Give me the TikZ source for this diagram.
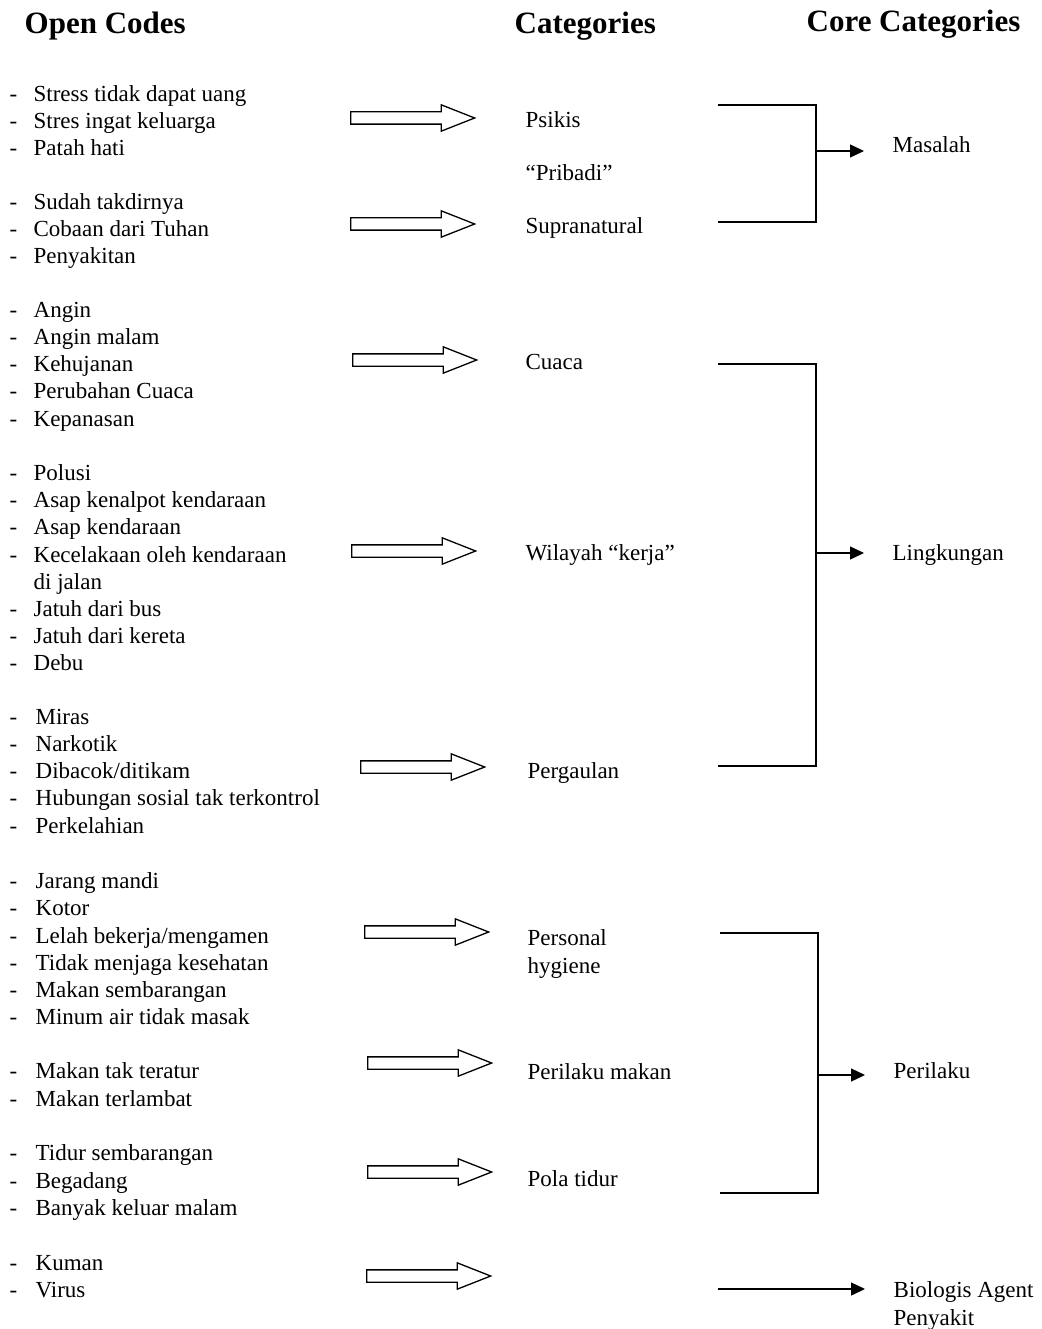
\documentclass[tikz,border=0pt]{standalone}
\usepackage{fontspec}
\setmainfont{Liberation Serif}
\usetikzlibrary{arrows.meta,shapes.arrows,positioning}

\begin{document}
\begin{tikzpicture}[x=1pt, y=-1pt, >={Triangle[length=14pt,width=13pt]}, line width=1.3pt,
  font=\fontsize{23}{27.6}\selectfont,
  txt/.style={anchor=west, inner sep=0pt, text height=17pt, text depth=4pt},
  twoline/.style={anchor=north west, inner sep=0pt, align=left},
  head/.style={txt, font=\fontsize{31}{36}\selectfont\bfseries},
  hollow/.style={draw, single arrow, single arrow head extend=7pt, single arrow tip angle=43,
    minimum height=124pt, inner xsep=0pt, inner ysep=5.5pt, anchor=tail},
  tip/.style={->, shorten >=28pt}]
  \useasboundingbox (0,0) rectangle (1041,1329);

  % column heads
  \node[head] (hopen) at (24,27) {Open Codes};
  \node[head] (hcat) at (514,27) {Categories};
  \node[head] (hcore) at (806,25) {Core Categories};

  % open codes
  \foreach \y/\t [count=\i] in {95/Stress tidak dapat uang, 122/Stres ingat keluarga, 149/Patah hati,
      203/Sudah takdirnya, 230/Cobaan dari Tuhan, 257/Penyakitan,
      311/Angin, 338/Angin malam, 365/Kehujanan, 392/Perubahan Cuaca, 420/Kepanasan,
      474/Polusi, 501/Asap kenalpot kendaraan, 528/Asap kendaraan, 556/Kecelakaan oleh kendaraan,
      610/Jatuh dari bus, 637/Jatuh dari kereta, 664/Debu} {
    \node[txt] (da\i) at (9,\y) {-};
    \node[txt] (oa\i) at (33,\y) {\t};
  }
  \node[txt] (jalan) at (33,583) {di jalan};
  \foreach \y/\t [count=\i] in {718/Miras, 745/Narkotik, 772/{Dibacok/ditikam},
      799/Hubungan sosial tak terkontrol, 827/Perkelahian,
      882/Jarang mandi, 909/Kotor, 937/{Lelah bekerja/mengamen}, 964/Tidak menjaga kesehatan,
      991/Makan sembarangan, 1018/Minum air tidak masak,
      1072/Makan tak teratur, 1100/Makan terlambat,
      1154/Tidur sembarangan, 1182/Begadang, 1209/Banyak keluar malam,
      1264/Kuman, 1291/Virus} {
    \node[txt] (db\i) at (9,\y) {-};
    \node[txt] (ob\i) at (35,\y) {\t};
  }

  % hollow arrows
  \node[hollow] (ar1) at (350,118) {};
  \node[hollow] (ar2) at (350,224) {};
  \node[hollow] (ar3) at (352,360) {};
  \node[hollow] (ar4) at (351,551) {};
  \node[hollow] (ar5) at (360,767) {};
  \node[hollow] (ar6) at (364,932) {};
  \node[hollow] (ar7) at (367,1063) {};
  \node[hollow] (ar8) at (367,1172) {};
  \node[hollow] (ar9) at (366,1276) {};

  % categories
  \node[txt] (psikis) at (525,121) {Psikis};
  \node[txt] (pribadi) at (525,174) {“Pribadi”};
  \node[txt] (supra) at (525,227) {Supranatural};
  \node[txt] (cuaca) at (525,363) {Cuaca};
  \node[txt] (wilayah) at (525,554) {Wilayah “kerja”};
  \node[txt] (gaul) at (527,772) {Pergaulan};
  \node[twoline] (hygiene) at (527,929) {Personal\\hygiene};
  \node[txt] (makan) at (527,1073) {Perilaku makan};
  \node[txt] (tidur) at (527,1180) {Pola tidur};

  % core categories
  \node[txt] (masalah) at (892,146) {Masalah};
  \node[txt] (lingkungan) at (892,554) {Lingkungan};
  \node[txt] (perilaku) at (893,1072) {Perilaku};
  \node[twoline] (biologis) at (893,1281) {Biologis Agent\\Penyakit};

  % brackets
  \coordinate (m1) at (718,105);
  \coordinate (m2) at (718,222);
  \coordinate (mj) at (816,151);
  \draw (m1) -- ++(98,0) |- (m2);
  \draw[tip] (mj) -- (mj -| masalah.west);

  \coordinate (l1) at (718,364);
  \coordinate (l2) at (718,766);
  \coordinate (lj) at (816,553);
  \draw (l1) -- ++(98,0) |- (l2);
  \draw[tip] (lj) -- (lj -| lingkungan.west);

  \coordinate (p1) at (720,933);
  \coordinate (p2) at (720,1193);
  \coordinate (pj) at (818,1075);
  \draw (p1) -- ++(98,0) |- (p2);
  \draw[tip] (pj) -- (pj -| perilaku.west);

  \coordinate (bj) at (718,1289);
  \draw[tip] (bj) -- (bj -| biologis.west);
\end{tikzpicture}
\end{document}
